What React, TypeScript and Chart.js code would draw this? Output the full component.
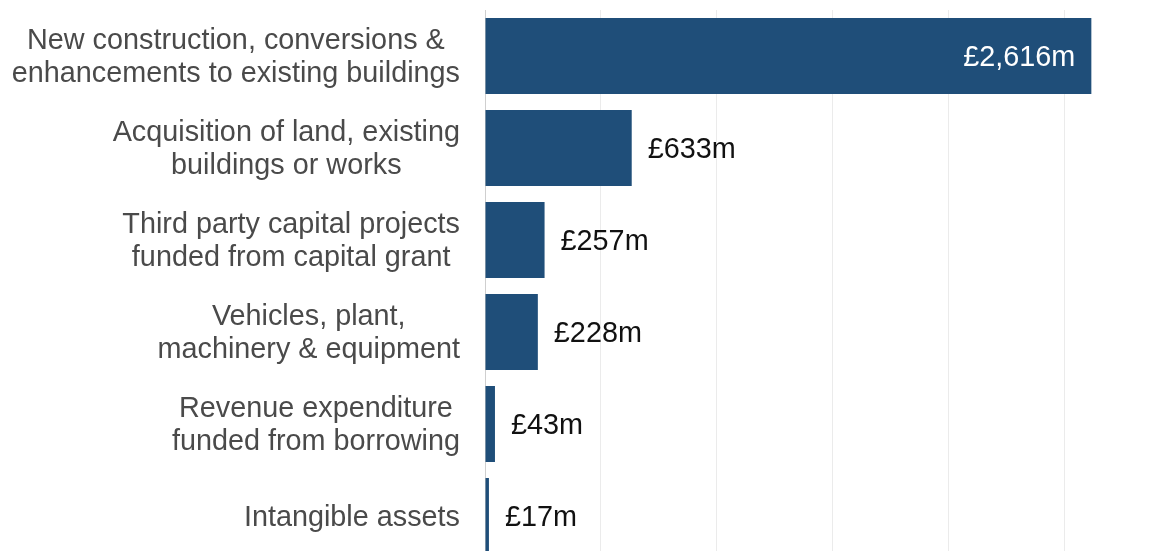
import { useEffect, useRef } from "react";
import { Chart, registerables } from "chart.js";

Chart.register(...registerables);

const categories: string[][] = [
  ["New construction, conversions &", "enhancements to existing buildings"],
  ["Acquisition of land, existing", "buildings or works"],
  ["Third party capital projects", "funded from capital grant"],
  ["Vehicles, plant,", "machinery & equipment"],
  ["Revenue expenditure", "funded from borrowing"],
  ["Intangible assets"],
];
const values: number[] = [2616, 633, 257, 228, 43, 17];
const xTicks: number[] = [0, 500, 1000, 1500, 2000, 2500];
const X_MAX = 2800;

const FONT = '"Liberation Sans", Arial, Helvetica, sans-serif';
const FONT_SIZE = 28.8;
const BAR_COLOR = "#1f4e79";
const LABEL_COLOR = "#4a4a4a";
const VALUE_COLOR = "#111111";

const fmt = (v: number) => "£" + v.toLocaleString("en-GB") + "m";

const labelPlugin = {
  id: "customLabels",
  afterDraw(chart: any) {
    const ctx: CanvasRenderingContext2D = chart.ctx;
    const yScale = chart.scales.y;
    const right = chart.chartArea.left - 25;
    const lh = 33.5;
    ctx.save();
    ctx.font = `${FONT_SIZE}px ${FONT}`;
    ctx.textBaseline = "alphabetic";
    // category labels: block right aligned, lines centred inside block
    ctx.fillStyle = LABEL_COLOR;
    ctx.textAlign = "center";
    categories.forEach((lines, i) => {
      const cy = yScale.getPixelForTick(i);
      const w = Math.max(...lines.map((l) => ctx.measureText(l).width));
      const cx = right - w / 2;
      lines.forEach((l, j) => {
        ctx.fillText(l, cx, cy + 9.5 + (j - (lines.length - 1) / 2) * lh);
      });
    });
    // value labels
    const meta = chart.getDatasetMeta(0);
    meta.data.forEach((el: any, i: number) => {
      const txt = fmt(values[i]);
      const inside = el.x - el.base > 300;
      const by = el.y + 10.3;
      if (inside) {
        ctx.fillStyle = "#ffffff";
        ctx.textAlign = "right";
        ctx.fillText(txt, el.x - 16, by);
      } else {
        ctx.fillStyle = VALUE_COLOR;
        ctx.textAlign = "left";
        ctx.fillText(txt, el.x + 16, by);
      }
    });
    ctx.restore();
  },
};

export default function App() {
  const ref = useRef<HTMLCanvasElement>(null);

  useEffect(() => {
    if (!ref.current) return;
    const chart = new Chart(ref.current, {
      type: "bar",
      data: {
        labels: categories.map((c) => c.join(" ")),
        datasets: [
          {
            data: values,
            backgroundColor: BAR_COLOR,
            borderWidth: 0,
            categoryPercentage: 1,
            barPercentage: 76 / 92,
          },
        ],
      },
      options: {
        indexAxis: "y",
        animation: false,
        responsive: false,
        maintainAspectRatio: false,
        devicePixelRatio: 1,
        layout: { padding: { top: 10, right: 33, left: 0, bottom: 0 } },
        plugins: {
          legend: { display: false },
          tooltip: { enabled: false },
        },
        scales: {
          x: {
            type: "linear",
            min: 0,
            max: X_MAX,
            afterBuildTicks: (scale: any) => {
              scale.ticks = xTicks.map((v) => ({ value: v }));
            },
            afterFit: (scale: any) => {
              scale.height = 0;
            },
            ticks: { display: false },
            border: { display: false },
            grid: {
              drawTicks: false,
              lineWidth: 1,
              color: (c: any) => (c.tick && c.tick.value === 0 ? "#cfcfcf" : "#ebebeb"),
            },
          },
          y: {
            type: "category",
            afterFit: (scale: any) => {
              scale.width = 485;
            },
            ticks: { display: false },
            border: { display: false },
            grid: { display: false, drawTicks: false },
          },
        },
      },
      plugins: [labelPlugin],
    } as any);
    return () => chart.destroy();
  }, []);

  return (
    <div
      style={{
        position: "absolute",
        left: 0,
        top: 0,
        width: 1167,
        height: 551,
        overflow: "hidden",
        background: "#ffffff",
      }}
    >
      <canvas ref={ref} width={1167} height={562} style={{ display: "block" }} />
    </div>
  );
}
